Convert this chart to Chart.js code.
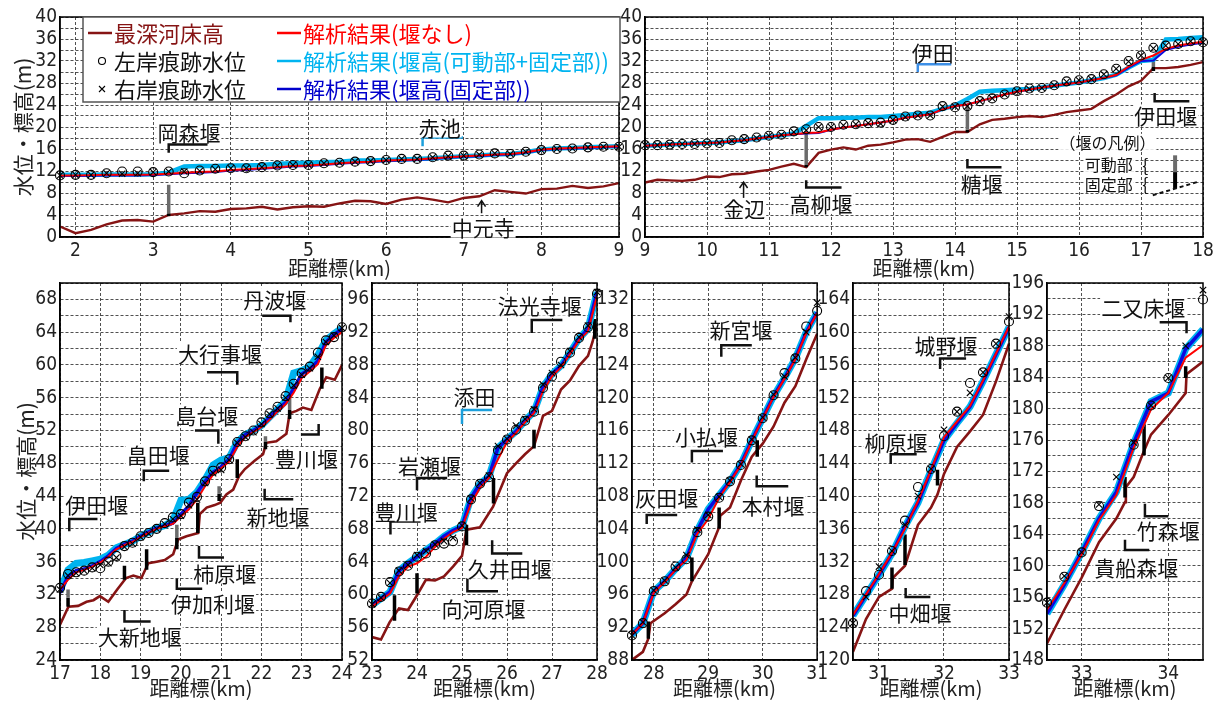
<!DOCTYPE html>
<html lang="ja">
<head>
<meta charset="utf-8">
<title>水位縦断図</title>
<script src="https://cdn.jsdelivr.net/npm/chart.js@4.4.1/dist/chart.umd.min.js"></script>
<style>
  html, body { margin: 0; padding: 0; background: #fff; }
  #wrap { position: relative; width: 1225px; height: 702px; overflow: hidden; background: #fff; }
  #wrap canvas { position: absolute; }
</style>
</head>
<body>
<div id="wrap">
  <canvas id="p1"></canvas>
  <canvas id="p2"></canvas>
  <canvas id="p3"></canvas>
  <canvas id="p4"></canvas>
  <canvas id="p5"></canvas>
  <canvas id="p6"></canvas>
  <canvas id="p7"></canvas>
</div>
<script>
// start: Data
// panel 1 (1.8 - 9 km)
const km1 = [1.8, 2.0, 2.2, 2.4, 2.6, 2.8, 3.0, 3.2, 3.4, 3.6, 3.8, 4.0, 4.2, 4.4, 4.6, 4.8, 5.0, 5.2, 5.4, 5.6, 5.8, 6.0, 6.2, 6.4, 6.6, 6.8, 7.0, 7.2, 7.4, 7.6, 7.8, 8.0, 8.2, 8.4, 8.6, 8.8, 9.0];
const bed1 = [1.9, 0.7, 1.3, 2.3, 3.0, 3.1, 2.8, 4.0, 4.3, 4.7, 4.6, 5.1, 5.2, 5.5, 5.0, 5.4, 5.6, 5.5, 6.1, 6.6, 6.5, 6.0, 6.8, 7.2, 6.8, 6.3, 7.1, 7.4, 8.5, 8.2, 7.9, 8.7, 8.8, 9.3, 8.9, 9.2, 9.8];
const red1 = [11.2, 11.2, 11.25, 11.3, 11.3, 11.3, 11.35, 11.5, 11.7, 11.8, 11.9, 12.2, 12.3, 12.5, 12.7, 12.9, 13.0, 13.2, 13.4, 13.6, 13.7, 13.9, 14.0, 14.1, 14.3, 14.5, 14.7, 14.8, 15.0, 15.1, 15.4, 15.9, 16.1, 16.2, 16.3, 16.4, 16.5];
const blue1 = [11.1, 11.1, 11.15, 11.2, 11.2, 11.2, 11.25, 11.4, 11.6, 11.7, 11.8, 12.1, 12.2, 12.4, 12.6, 12.8, 12.9, 13.1, 13.3, 13.5, 13.6, 13.8, 13.9, 14.0, 14.2, 14.4, 14.6, 14.7, 14.9, 15.0, 15.3, 15.8, 16.0, 16.1, 16.2, 16.3, 16.4];
const cyan1 = [11.3, 11.3, 11.3, 11.35, 11.35, 11.35, 11.4, 11.7, 12.8, 12.9, 12.9, 13.0, 13.0, 13.1, 13.3, 13.4, 13.5, 13.6, 13.7, 13.9, 13.9, 14.0, 14.1, 14.2, 14.3, 14.5, 14.7, 14.8, 15.0, 15.1, 15.4, 15.9, 16.1, 16.2, 16.3, 16.4, 16.5];
const left1 = [11.2, 11.3, 11.3, 11.6, 11.9, 11.9, 11.8, 11.9, 11.6, 12.1, 12.4, 12.5, 12.5, 12.7, 13.0, 13.1, 13.1, 13.4, 13.5, 13.7, 13.8, 14.0, 14.2, 14.2, 14.5, 14.8, 14.8, 15.0, 15.2, 15.1, 15.5, 15.8, 16.0, 16.1, 16.3, 16.4, 16.4];
const right1 = [11.2, 11.3, 11.3, 11.6, 11.5, 11.6, 11.8, 11.9, 11.9, 12.0, 12.3, 12.5, 12.5, 12.7, 13.0, 13.1, 13.1, 13.4, 13.5, 13.7, 13.8, 14.0, 14.2, 14.2, 14.5, 14.7, 14.8, 15.0, 15.2, 15.1, 15.5, 15.8, 16.0, 16.1, 16.3, 16.4, 16.4];
const weirKm1 = [3.2];
const weirBed1 = [3.8];
const weirFix1 = [4.3];
const weirTop1 = [9.5];

// panel 2 (9 - 18 km)
const km2 = [9.0, 9.2, 9.4, 9.6, 9.8, 10.0, 10.2, 10.4, 10.6, 10.8, 11.0, 11.2, 11.4, 11.6, 11.8, 12.0, 12.2, 12.4, 12.6, 12.8, 13.0, 13.2, 13.4, 13.6, 13.8, 14.0, 14.2, 14.4, 14.6, 14.8, 15.0, 15.2, 15.4, 15.6, 15.8, 16.0, 16.2, 16.4, 16.6, 16.8, 17.0, 17.2, 17.4, 17.6, 17.8, 18.0];
const bed2 = [9.9, 10.4, 10.3, 10.2, 10.4, 11.0, 10.9, 11.4, 11.5, 11.9, 12.2, 12.8, 13.3, 12.7, 15.3, 15.9, 16.3, 15.9, 16.6, 16.8, 17.2, 17.7, 17.8, 17.3, 18.2, 19.1, 19.1, 20.5, 21.3, 21.5, 21.8, 22.0, 21.8, 22.2, 22.7, 23.0, 23.3, 24.7, 25.9, 27.4, 28.4, 30.7, 30.7, 30.9, 31.3, 31.8];
const red2 = [16.6, 16.7, 16.8, 16.9, 17.0, 17.1, 17.2, 17.4, 17.6, 17.9, 18.2, 18.5, 18.7, 18.9, 19.0, 19.5, 19.9, 20.2, 20.5, 20.8, 21.2, 21.7, 22.0, 22.3, 23.2, 23.8, 24.1, 24.7, 25.3, 25.9, 26.4, 26.8, 27.2, 27.5, 27.8, 28.1, 28.5, 28.9, 29.5, 31.0, 32.2, 33.0, 34.2, 34.8, 35.2, 35.5];
const blue2 = [16.6, 16.7, 16.8, 16.9, 17.0, 17.1, 17.2, 17.4, 17.6, 17.9, 18.2, 18.5, 18.7, 18.8, 18.9, 19.5, 19.9, 20.2, 20.5, 20.8, 21.2, 21.7, 22.0, 22.3, 23.2, 23.8, 24.1, 24.7, 25.3, 25.9, 26.4, 26.8, 27.2, 27.5, 27.8, 28.1, 28.5, 28.9, 29.4, 30.8, 32.0, 32.1, 34.0, 34.6, 35.0, 35.3];
const cyan2 = [16.6, 16.7, 16.8, 16.9, 17.0, 17.1, 17.2, 17.4, 17.6, 17.9, 18.2, 18.5, 18.8, 20.2, 21.6, 21.6, 21.7, 21.7, 21.8, 21.8, 22.0, 22.2, 22.4, 22.6, 23.3, 23.9, 25.1, 26.4, 26.6, 26.7, 26.8, 26.9, 27.2, 27.5, 27.8, 28.1, 28.5, 28.9, 29.5, 30.8, 32.0, 32.2, 35.9, 36.0, 36.2, 36.3];
const left2 = [16.7, 16.7, 16.8, 16.9, 16.9, 17.0, 17.1, 17.6, 17.8, 18.1, 18.4, 18.6, 19.2, 19.6, 20.0, 20.0, 20.4, 20.5, 20.7, 20.8, 21.3, 21.9, 22.1, 22.1, 23.8, 23.6, 23.8, 24.7, 25.2, 25.9, 26.5, 27.0, 27.1, 27.6, 28.3, 28.5, 28.7, 29.6, 30.6, 32.0, 33.0, 34.4, 34.8, 35.1, 35.6, 35.4];
const right2 = [16.7, 16.7, 16.8, 16.9, 16.9, 17.0, 17.1, 17.5, 17.8, 18.0, 18.4, 18.6, 19.1, 19.4, 20.0, 20.0, 20.3, 20.5, 20.7, 20.6, 21.3, 21.8, 22.1, 22.1, 23.7, 23.7, 23.8, 24.7, 25.2, 25.9, 26.5, 26.9, 27.1, 27.6, 28.2, 28.5, 28.7, 29.6, 30.6, 31.9, 33.0, 34.3, 34.8, 35.1, 35.6, 35.4];
const weirKm2 = [11.6, 14.2, 17.2];
const weirBed2 = [12.7, 19.0, 30.2];
const weirFix2 = [13.1, 19.5, 30.9];
const weirTop2 = [19.3, 23.8, 32.3];

// panel 3 (17 - 24 km)
const km3 = [17.0, 17.2, 17.4, 17.6, 17.8, 18.0, 18.2, 18.4, 18.6, 18.8, 19.0, 19.2, 19.4, 19.6, 19.8, 20.0, 20.2, 20.4, 20.6, 20.8, 21.0, 21.2, 21.4, 21.6, 21.8, 22.0, 22.2, 22.4, 22.6, 22.8, 23.0, 23.2, 23.4, 23.6, 23.8, 24.0];
const blue3 = [32.2, 34.2, 34.9, 35.1, 35.5, 36.0, 36.7, 37.6, 38.1, 38.5, 39.1, 39.6, 40.1, 40.4, 40.7, 41.8, 42.8, 44.4, 45.8, 46.9, 47.6, 48.5, 50.5, 51.5, 52.0, 52.6, 53.6, 54.6, 55.4, 57.1, 58.9, 59.5, 60.5, 62.8, 63.7, 64.4];
const red3 = [32.6, 33.8, 34.7, 35.0, 35.4, 35.9, 36.6, 37.5, 38.0, 38.4, 39.0, 39.5, 40.0, 40.3, 40.6, 41.5, 42.4, 43.6, 45.2, 46.6, 47.4, 48.2, 50.0, 51.2, 51.8, 52.4, 53.3, 54.3, 55.2, 56.6, 58.4, 59.2, 60.1, 62.4, 63.3, 64.0];
const cyan3 = [32.4, 35.0, 35.8, 35.9, 36.1, 36.3, 36.8, 37.7, 38.1, 38.5, 39.1, 39.6, 40.1, 40.4, 41.0, 43.5, 43.6, 44.5, 46.0, 47.8, 48.4, 48.7, 50.6, 51.5, 52.0, 52.6, 53.6, 54.6, 55.6, 59.0, 59.3, 59.8, 61.2, 63.0, 63.8, 64.5];
const left3 = [32.8, 34.5, 34.7, 34.9, 35.3, 35.2, 36.0, 36.7, 37.9, 38.3, 39.1, 39.5, 40.0, 40.7, 41.4, 41.8, 43.2, 43.9, 45.8, 47.1, 47.5, 48.5, 50.6, 51.3, 52.0, 53.0, 54.1, 54.9, 56.2, 57.7, 59.0, 59.8, 61.5, 63.0, 63.4, 64.6];
const right3 = [32.6, 34.3, 34.6, 34.9, 35.2, 35.6, 35.8, 36.5, 37.8, 38.2, 39.0, 39.4, 40.0, 40.6, 41.2, 41.6, 42.9, 43.6, 45.6, 46.8, 47.2, 48.4, 50.5, 51.2, 51.8, 52.8, 54.0, 54.7, 56.0, 57.5, 58.8, 59.6, 61.0, 62.8, 63.6, 64.5];
const bedKm3 = [17.0, 17.21, 17.45, 17.66, 17.83, 17.99, 18.2, 18.42, 18.64, 18.82, 19.02, 19.19, 19.4, 19.6, 19.81, 19.93, 20.14, 20.43, 20.47, 20.64, 20.84, 20.98, 21.13, 21.3, 21.44, 21.59, 21.83, 22.04, 22.12, 22.37, 22.62, 22.7, 22.87, 23.03, 23.24, 23.45, 23.61, 23.82, 24.0];
const bed3 = [28.3, 30.5, 30.6, 31.1, 31.3, 31.8, 31.1, 32.6, 34.0, 34.3, 34.0, 35.8, 36.0, 36.2, 36.9, 38.7, 39.1, 39.5, 41.8, 42.6, 42.9, 43.2, 44.2, 44.8, 46.4, 47.3, 48.3, 49.1, 50.5, 50.7, 51.6, 54.1, 54.4, 54.8, 54.5, 57.1, 58.5, 58.2, 60.0];
const weirKm3 = [17.2, 18.6, 19.15, 19.9, 20.42, 20.95, 21.4, 22.1, 22.7, 23.5];
const weirBed3 = [30.5, 33.8, 35.0, 37.5, 39.5, 43.4, 46.2, 49.7, 53.4, 57.1];
const weirFix3 = [31.6, 35.5, 37.5, 38.9, 43.2, 44.3, 48.5, 50.6, 54.5, 59.7];
const weirTop3 = [32.6, 35.5, 37.5, 40.5, 43.2, 45.2, 48.5, 51.3, 56.0, 59.7];

// panel 4 (23 - 28 km)
const km4 = [23.0, 23.2, 23.4, 23.6, 23.8, 24.0, 24.2, 24.4, 24.6, 24.8, 25.0, 25.2, 25.4, 25.6, 25.8, 26.0, 26.2, 26.4, 26.6, 26.8, 27.0, 27.2, 27.4, 27.6, 27.8, 28.0];
const blue4 = [58.7, 59.5, 60.3, 62.9, 63.8, 64.6, 65.4, 66.2, 67.1, 67.8, 68.3, 71.8, 73.5, 74.4, 77.9, 78.9, 79.9, 81.2, 82.3, 85.3, 86.9, 87.9, 89.5, 91.2, 92.4, 96.9];
const red4 = [58.5, 59.3, 60.1, 62.2, 63.4, 63.8, 64.6, 65.8, 66.8, 67.6, 68.1, 71.1, 73.0, 74.2, 76.5, 78.6, 79.7, 81.0, 82.1, 84.8, 86.6, 87.7, 89.3, 91.0, 92.1, 96.4];
const left4 = [58.9, 59.7, 61.5, 62.8, 63.5, 64.6, 65.0, 66.0, 66.2, 66.5, 68.3, 71.6, 73.5, 74.3, 77.6, 78.9, 80.1, 81.2, 82.3, 85.2, 86.6, 88.4, 89.5, 91.3, 92.6, 96.7];
const right4 = [58.8, 59.6, 61.4, 62.9, 63.6, 64.8, 65.3, 66.1, 66.5, 66.9, 68.4, 71.7, 73.6, 74.5, 78.1, 79.0, 80.6, 81.4, 82.6, 85.6, 87.0, 88.0, 89.7, 91.4, 92.8, 96.9];
const bedKm4 = [23.0, 23.2, 23.39, 23.6, 23.8, 24.0, 24.2, 24.4, 24.6, 24.8, 25.0, 25.1, 25.4, 25.69, 26.0, 26.2, 26.4, 26.6, 26.8, 27.0, 27.2, 27.4, 27.6, 27.8, 27.9, 28.0];
const bed4 = [54.8, 54.5, 56.6, 58.3, 58.1, 59.9, 61.8, 61.7, 62.2, 63.4, 64.7, 67.9, 68.2, 70.7, 74.8, 76.0, 77.1, 78.1, 81.8, 82.4, 85.0, 86.1, 87.9, 89.1, 90.8, 93.0];
const weirKm4 = [23.5, 24.0, 25.1, 25.7, 26.6, 27.95];
const weirBed4 = [56.8, 60.1, 66.0, 71.1, 77.8, 91.2];
const weirTop4 = [59.9, 62.6, 68.5, 74.2, 80.1, 93.6];

// panel 5 (27.6 - 31 km)
const km5 = [27.6, 27.8, 28.0, 28.2, 28.4, 28.6, 28.8, 29.0, 29.2, 29.4, 29.6, 29.8, 30.0, 30.2, 30.4, 30.6, 30.8, 31.0];
const blue5 = [91.1, 92.5, 96.4, 97.6, 99.1, 100.4, 103.8, 106.4, 108.1, 109.8, 111.9, 114.8, 117.5, 120.2, 122.4, 124.8, 128.0, 130.4];
const red5 = [91.1, 92.5, 96.2, 97.5, 99.0, 100.2, 103.4, 105.2, 107.8, 109.7, 111.8, 114.7, 117.4, 120.1, 122.3, 124.7, 127.9, 130.3];
const left5 = [91.0, 92.5, 96.4, 97.6, 99.4, 100.3, 103.6, 105.5, 107.8, 109.8, 111.8, 114.8, 117.5, 120.3, 123.0, 124.8, 128.7, 130.6];
const right5 = [91.0, 92.6, 96.5, 97.7, 99.3, 100.8, 103.9, 105.7, 107.9, 109.9, 111.9, 114.9, 117.6, 120.4, 122.6, 124.9, 128.0, 131.6];
const bedKm5 = [27.6, 27.8, 27.9, 27.94, 28.2, 28.4, 28.6, 28.7, 28.8, 29.0, 29.2, 29.22, 29.4, 29.6, 29.8, 30.0, 30.2, 30.4, 30.6, 30.8, 31.0];
const bed5 = [88.0, 89.0, 90.6, 92.5, 93.7, 94.8, 96.0, 97.6, 98.7, 100.9, 104.2, 105.6, 106.6, 109.9, 112.8, 114.4, 116.5, 119.4, 121.4, 124.7, 127.8];
const weirKm5 = [27.9, 28.7, 29.2, 29.9];
const weirBed5 = [90.6, 97.6, 104.0, 112.8];
const weirTop5 = [92.7, 100.5, 106.6, 114.8];

// panel 6 (30.6 - 33 km)
const km6 = [30.6, 30.8, 31.0, 31.2, 31.4, 31.6, 31.8, 32.0, 32.2, 32.4, 32.6, 32.8, 33.0];
const blue6 = [125.4, 127.9, 130.4, 133.0, 136.3, 139.2, 143.1, 146.8, 148.9, 150.9, 154.0, 157.3, 160.6];
const red6 = [125.5, 128.0, 130.5, 133.1, 136.0, 139.4, 143.2, 147.2, 149.1, 151.0, 154.1, 157.4, 160.7];
const left6 = [124.5, 128.4, 130.4, 133.3, 137.0, 141.1, 143.3, 147.3, 150.3, 153.8, 155.1, 158.6, 161.3];
const right6 = [124.5, 127.7, 131.4, 133.3, 136.5, 140.0, 143.3, 148.1, 150.3, 152.6, 155.1, 158.6, 161.9];
const bedKm6 = [30.6, 30.8, 31.0, 31.2, 31.21, 31.4, 31.6, 31.8, 31.9, 32.0, 32.2, 32.4, 32.6, 32.8, 33.0];
const bed6 = [121.0, 125.0, 127.7, 128.7, 130.0, 131.5, 136.5, 138.6, 140.2, 142.7, 146.0, 147.9, 149.9, 154.0, 158.6];
const weirKm6 = [31.2, 31.4, 31.9];
const weirBed6 = [128.7, 131.6, 141.3];
const weirTop6 = [131.3, 135.3, 143.2];

// panel 7 (32.6 - 34.4 km)
const km7 = [32.6, 32.8, 33.0, 33.2, 33.4, 33.6, 33.8, 34.0, 34.2, 34.4];
const blue7 = [153.9, 157.6, 161.7, 166.0, 169.4, 175.6, 180.9, 182.0, 187.6, 190.1];
const red7 = [154.4, 157.8, 161.4, 165.8, 169.0, 175.0, 179.9, 182.0, 186.5, 188.1];
const left7 = [155.3, 158.6, 161.7, 167.6, null, 175.4, 180.4, 183.9, null, 193.9];
const right7 = [155.3, 158.7, 161.7, 167.8, 171.3, 175.7, 180.4, 183.9, 188.0, 195.1];
const bedKm7 = [32.6, 32.8, 33.0, 33.2, 33.4, 33.5, 33.51, 33.6, 33.7, 33.8, 34.0, 34.2, 34.21, 34.4];
const bed7 = [150.1, 154.4, 158.5, 163.0, 166.0, 168.1, 170.0, 171.3, 174.1, 176.7, 179.2, 182.0, 184.4, 186.0];
const weirKm7 = [33.5, 33.72, 34.2];
const weirBed7 = [168.7, 174.1, 183.9];
const weirTop7 = [171.3, 178.0, 185.4];

// weir names and brackets (data coordinates)
const notes1 = [
  { type: "label", text: "岡森堰", x: 3.46, y: 19.1 },
  { type: "bracket", x: 3.2, v0: 15.3, h: 16.8, x2: 3.7 },
  { type: "label", text: "赤池", x: 6.69, y: 20.0 },
  { type: "bracket", x: 6.47, v0: 16.5, h: 18.1, x2: 6.99, color: "#1ca0dc" },
  { type: "label", text: "中元寺", x: 7.25, y: 1.8 },
  { type: "arrow", x: 7.23, y0: 4.3, y1: 6.6 },
];
const notes2 = [
  { type: "label", text: "高柳堰", x: 11.84, y: 6.1 },
  { type: "bracket", x: 11.6, v0: 10.3, h: 9.0, x2: 12.17 },
  { type: "label", text: "金辺", x: 10.6, y: 5.2 },
  { type: "arrow", x: 10.59, y0: 6.7, y1: 10.0 },
  { type: "label", text: "伊田", x: 13.64, y: 33.6 },
  { type: "bracket", x: 13.4, v0: 30.0, h: 31.4, x2: 13.94, color: "#3d8fe6" },
  { type: "label", text: "糖堰", x: 14.43, y: 9.8 },
  { type: "bracket", x: 14.2, v0: 14.2, h: 12.7, x2: 14.75 },
  { type: "label", text: "伊田堰", x: 17.4, y: 22.2 },
  { type: "bracket", x: 17.22, v0: 26.2, h: 24.7, x2: 17.78 },
  { type: "label", text: "（堰の凡例）", x: 16.46, y: 17.3, size: 16 },
  { type: "label", text: "可動部", x: 16.48, y: 13.3, size: 16 },
  { type: "label", text: "{", x: 17.07, y: 13.3, size: 18, plain: true },
  { type: "label", text: "固定部", x: 16.48, y: 9.7, size: 16 },
  { type: "label", text: "{", x: 17.07, y: 9.7, size: 18, plain: true },
  { type: "bar", x: 17.55, y0: 11.8, y1: 14.85, color: "#6b6b6b" },
  { type: "bar", x: 17.55, y0: 8.8, y1: 11.8, color: "#000" },
  { type: "dash", x0: 17.19, y0: 7.6, x1: 17.91, y1: 10.0 },
];
const notes3 = [
  { type: "label", text: "伊田堰", x: 17.91, y: 43.0 },
  { type: "bracket", x: 17.23, v0: 39.7, h: 41.2, x2: 17.93 },
  { type: "label", text: "大新地堰", x: 18.98, y: 26.9 },
  { type: "bracket", x: 18.6, v0: 30.1, h: 28.7, x2: 19.25 },
  { type: "label", text: "伊加利堰", x: 20.8, y: 30.9 },
  { type: "bracket", x: 19.9, v0: 33.9, h: 32.7, x2: 20.53 },
  { type: "label", text: "柿原堰", x: 21.09, y: 34.6 },
  { type: "bracket", x: 20.45, v0: 37.9, h: 36.5, x2: 21.07 },
  { type: "label", text: "畠田堰", x: 19.44, y: 49.1 },
  { type: "bracket", x: 19.08, v0: 45.8, h: 47.1, x2: 19.71 },
  { type: "label", text: "島台堰", x: 20.64, y: 53.9 },
  { type: "bracket", x: 20.93, v0: 50.4, h: 52.0, x2: 20.35 },
  { type: "label", text: "大行事堰", x: 20.97, y: 61.4 },
  { type: "bracket", x: 21.4, v0: 57.6, h: 59.1, x2: 20.65 },
  { type: "label", text: "丹波堰", x: 22.33, y: 68.1 },
  { type: "bracket", x: 22.72, v0: 65.2, h: 66.0, x2: 22.02 },
  { type: "label", text: "豊川堰", x: 23.12, y: 48.6 },
  { type: "bracket", x: 23.42, v0: 52.8, h: 51.5, x2: 22.98 },
  { type: "label", text: "新地堰", x: 22.41, y: 41.6 },
  { type: "bracket", x: 22.08, v0: 44.9, h: 43.6, x2: 22.79 },
];
const notes4 = [
  { type: "label", text: "豊川堰", x: 23.76, y: 70.2 },
  { type: "bracket", x: 23.41, v0: 67.3, h: 68.9, x2: 24.08 },
  { type: "label", text: "岩瀬堰", x: 24.28, y: 75.8 },
  { type: "bracket", x: 24.0, v0: 72.7, h: 74.2, x2: 24.67 },
  { type: "label", text: "添田", x: 25.28, y: 84.2 },
  { type: "bracket", x: 25.0, v0: 80.8, h: 82.5, x2: 25.67, color: "#1ca0dc" },
  { type: "label", text: "法光寺堰", x: 26.73, y: 95.3 },
  { type: "bracket", x: 26.55, v0: 91.9, h: 93.5, x2: 27.23 },
  { type: "label", text: "久井田堰", x: 26.06, y: 63.2 },
  { type: "bracket", x: 25.67, v0: 66.6, h: 65.0, x2: 26.34 },
  { type: "label", text: "向河原堰", x: 25.48, y: 58.3 },
  { type: "bracket", x: 25.12, v0: 62.0, h: 60.4, x2: 25.8 },
];
const notes5 = [
  { type: "label", text: "灰田堰", x: 28.24, y: 107.9 },
  { type: "bracket", x: 27.87, v0: 104.6, h: 105.7, x2: 28.43 },
  { type: "label", text: "小払堰", x: 28.97, y: 115.3 },
  { type: "bracket", x: 28.7, v0: 112.1, h: 113.5, x2: 29.27 },
  { type: "label", text: "新宮堰", x: 29.6, y: 128.4 },
  { type: "bracket", x: 29.24, v0: 125.0, h: 126.4, x2: 29.8 },
  { type: "label", text: "本村堰", x: 30.19, y: 106.9 },
  { type: "bracket", x: 29.89, v0: 110.5, h: 109.2, x2: 30.47 },
];
const notes6 = [
  { type: "label", text: "柳原堰", x: 31.26, y: 146.6 },
  { type: "bracket", x: 31.18, v0: 143.9, h: 145.1, x2: 31.58 },
  { type: "label", text: "城野堰", x: 32.03, y: 158.4 },
  { type: "bracket", x: 31.94, v0: 155.5, h: 156.8, x2: 32.34 },
  { type: "label", text: "中畑堰", x: 31.63, y: 125.8 },
  { type: "bracket", x: 31.41, v0: 128.8, h: 127.7, x2: 31.79 },
];
const notes7 = [
  { type: "label", text: "二又床堰", x: 33.71, y: 192.9 },
  { type: "bracket", x: 34.21, v0: 189.6, h: 191.0, x2: 33.9 },
  { type: "label", text: "竹森堰", x: 34.0, y: 164.5 },
  { type: "bracket", x: 33.73, v0: 167.9, h: 166.3, x2: 34.0 },
  { type: "label", text: "貴船森堰", x: 33.63, y: 159.8 },
  { type: "bracket", x: 33.5, v0: 163.3, h: 162.0, x2: 33.78 },
];
// end: Data

const BED = "#861414";
const RED = "#ff0000";
const CYAN = "#00b4f0";
const BLUE = "#0a0adf";
const GRID = "rgba(50,50,50,0.85)";
const JP = "'Noto Sans CJK JP', 'Noto Sans CJK SC', sans-serif";
const NUM = "'Liberation Sans Narrow', 'DejaVu Sans Condensed', 'Liberation Sans', sans-serif";

// legend of the first panel
const legendItems = [
  { text: "最深河床高", color: BED, kind: "line", col: 0, row: 0 },
  { text: "左岸痕跡水位", color: "#111", kind: "circle", col: 0, row: 1 },
  { text: "右岸痕跡水位", color: "#111", kind: "cross", col: 0, row: 2 },
  { text: "解析結果(堰なし)", color: RED, kind: "line", col: 1, row: 0 },
  { text: "解析結果(堰高(可動部+固定部))", color: CYAN, kind: "line", col: 1, row: 1 },
  { text: "解析結果(堰高(固定部))", color: "#0000cc", kind: "line", col: 1, row: 2 },
];

function pts(xs, ys) {
  return xs.map(function (x, i) {
    return { x: x, y: ys[i] };
  });
}

function lineSet(xs, ys, color, width, order) {
  return {
    data: pts(xs, ys),
    borderColor: color,
    borderWidth: width,
    pointRadius: 0,
    tension: 0,
    fill: false,
    order: order,
  };
}

function segSet(xs, lo, hi, color, width) {
  const data = [];
  xs.forEach(function (x, i) {
    data.push({ x: x, y: lo[i] }, { x: x, y: hi[i] }, { x: x, y: null });
  });
  return {
    data: data,
    borderColor: color,
    borderWidth: width,
    borderCapStyle: "butt",
    pointRadius: 0,
    spanGaps: false,
    order: 5,
  };
}

function markSet(xs, ys, style) {
  return {
    data: pts(xs, ys),
    showLine: false,
    pointStyle: style,
    pointRadius: 4.5,
    pointBorderColor: "#000",
    pointBackgroundColor: "rgba(0,0,0,0)",
    pointBorderWidth: 1.1,
    order: 0,
    clip: false,
  };
}

function drawLabel(ctx, text, px, py, size, color, plain) {
  ctx.font = size + "px " + JP;
  ctx.textAlign = "center";
  ctx.textBaseline = "middle";
  if (!plain) {
    const w = ctx.measureText(text).width;
    ctx.fillStyle = "#fff";
    ctx.fillRect(px - w / 2 - 1, py - size / 2, w + 2, size);
  }
  ctx.fillStyle = color;
  ctx.fillText(text, px, py + 1);
}

function drawNotes(chart, notes) {
  const ctx = chart.ctx;
  const sx = chart.scales.x;
  const sy = chart.scales.y;
  const X = function (v) { return sx.getPixelForValue(v); };
  const Y = function (v) { return sy.getPixelForValue(v); };
  ctx.save();
  notes.forEach(function (n) {
    if (n.type === "bracket") {
      ctx.strokeStyle = n.color || "#111";
      ctx.lineWidth = 2.5;
      ctx.beginPath();
      ctx.moveTo(X(n.x), Y(n.v0));
      ctx.lineTo(X(n.x), Y(n.h));
      ctx.lineTo(X(n.x2), Y(n.h));
      ctx.stroke();
    } else if (n.type === "arrow") {
      const px = X(n.x), p0 = Y(n.y0), p1 = Y(n.y1);
      ctx.strokeStyle = "#111";
      ctx.lineWidth = 1.5;
      ctx.beginPath();
      ctx.moveTo(px, p0);
      ctx.lineTo(px, p1);
      ctx.moveTo(px - 4, p1 + 6);
      ctx.lineTo(px, p1);
      ctx.lineTo(px + 4, p1 + 6);
      ctx.stroke();
    } else if (n.type === "bar") {
      ctx.strokeStyle = n.color;
      ctx.lineWidth = 4;
      ctx.lineCap = "butt";
      ctx.beginPath();
      ctx.moveTo(X(n.x), Y(n.y0));
      ctx.lineTo(X(n.x), Y(n.y1));
      ctx.stroke();
    } else if (n.type === "dash") {
      ctx.strokeStyle = "#111";
      ctx.lineWidth = 2;
      ctx.setLineDash([4, 3]);
      ctx.beginPath();
      ctx.moveTo(X(n.x0), Y(n.y0));
      ctx.lineTo(X(n.x1), Y(n.y1));
      ctx.stroke();
      ctx.setLineDash([]);
    }
  });
  notes.forEach(function (n) {
    if (n.type === "label") {
      drawLabel(ctx, n.text, X(n.x), Y(n.y), n.size || 21, "#111", n.plain);
    }
  });
  ctx.restore();
}

function drawLegend(ctx) {
  ctx.save();
  ctx.fillStyle = "#fff";
  ctx.fillRect(83, 17, 537, 85);
  ctx.strokeStyle = "#555";
  ctx.lineWidth = 1.5;
  ctx.strokeRect(83, 17, 537, 85);
  legendItems.forEach(function (it) {
    const y = 33 + it.row * 28;
    const x0 = it.col === 0 ? 88 : 277;
    ctx.lineWidth = it.kind === "line" ? 2.5 : 1.1;
    ctx.strokeStyle = it.kind === "line" ? it.color : "#000";
    ctx.beginPath();
    if (it.kind === "line") {
      ctx.moveTo(x0, y);
      ctx.lineTo(x0 + 24, y);
    } else if (it.kind === "circle") {
      ctx.arc(x0 + 14, y, 3.5, 0, Math.PI * 2);
    } else {
      ctx.moveTo(x0 + 11, y - 3);
      ctx.lineTo(x0 + 17, y + 3);
      ctx.moveTo(x0 + 17, y - 3);
      ctx.lineTo(x0 + 11, y + 3);
    }
    ctx.stroke();
    ctx.font = "22px " + JP;
    ctx.textAlign = "left";
    ctx.textBaseline = "middle";
    ctx.fillStyle = it.color;
    ctx.fillText(it.text, x0 + 26, y + 1);
  });
  ctx.restore();
}

function makePanel(p) {
  const canvas = document.getElementById(p.id);
  canvas.width = p.width;
  canvas.height = p.height;
  canvas.style.left = p.posX + "px";
  canvas.style.top = p.posY + "px";

  const w = p.big
    ? { cyan: 7, blue: 3.5, red: 2, bed: 2.6 }
    : { cyan: 4.5, blue: 2, red: 2, bed: 2.4 };
  const datasets = [
    lineSet(p.bedKm, p.bed, BED, w.bed, 6),
    segSet(p.weirKm, p.weirFix, p.weirTop, "#6b6b6b", 3.5),
    segSet(p.weirKm, p.weirBed, p.weirFix, "#000", 3.5),
    lineSet(p.km, p.cyan, CYAN, w.cyan, 4),
    lineSet(p.km, p.blue, BLUE, w.blue, 3),
    lineSet(p.km, p.red, RED, w.red, 2),
    markSet(p.km, p.leftBank, "circle"),
    markSet(p.km, p.rightBank, "crossRot"),
  ];

  new Chart(canvas, {
    type: "line",
    data: { datasets: datasets },
    options: {
      responsive: false,
      animation: false,
      devicePixelRatio: 1,
      events: [],
      layout: { padding: { left: 0, top: p.padTop, right: p.padRight, bottom: 0 } },
      plugins: { legend: { display: false }, tooltip: { enabled: false } },
      scales: {
        x: {
          type: "linear",
          min: p.xMin,
          max: p.xMax,
          afterFit: function (s) { s.height = p.xHeight; },
          ticks: {
            stepSize: 1,
            includeBounds: false,
            autoSkip: false,
            maxRotation: 0,
            padding: 3,
            color: "#222",
            font: { family: NUM, size: 19 },
          },
          grid: { color: GRID, lineWidth: 1, drawTicks: false },
          border: { display: true, color: "#000", width: 1.5, dash: [3, 2] },
          title: {
            display: true,
            text: "距離標(km)",
            color: "#222",
            font: { family: JP, size: 20 },
            padding: { top: 0, bottom: 2 },
          },
        },
        y: {
          min: p.yMin,
          max: p.yMax,
          afterFit: function (s) { s.width = p.yWidth; },
          ticks: {
            stepSize: 2,
            autoSkip: false,
            padding: 3,
            color: "#222",
            font: { family: NUM, size: 19 },
            callback: function (v) {
              return v % 4 === 0 ? v : "";
            },
          },
          grid: { color: GRID, lineWidth: 1, drawTicks: false },
          border: { display: true, color: "#000", width: 1.5, dash: [3, 2] },
          title: {
            display: !!p.yTitle,
            text: "水位・標高(m)",
            color: "#222",
            font: { family: JP, size: 21 },
            padding: { top: p.yTitlePad || 0, bottom: 0 },
          },
        },
      },
    },
    plugins: [
      {
        id: "frame",
        afterDraw: function (chart) {
          const a = chart.chartArea;
          const ctx = chart.ctx;
          ctx.save();
          ctx.strokeStyle = "#000";
          ctx.lineWidth = 1.5;
          ctx.strokeRect(a.left, a.top, a.right - a.left, a.bottom - a.top);
          ctx.restore();
          drawNotes(chart, p.notes);
          if (p.legend) drawLegend(ctx);
        },
      },
    ],
  });
}

makePanel({
  id: "p1", posX: 0, posY: 0, width: 640, height: 282, padTop: 17, padRight: 21, yWidth: 60, xHeight: 45,
  xMin: 1.8, xMax: 9, yMin: 0, yMax: 40, yTitle: true, yTitlePad: 10,
  km: km1, bedKm: km1, bed: bed1, red: red1, cyan: cyan1, blue: blue1, leftBank: left1, rightBank: right1,
  weirKm: weirKm1, weirBed: weirBed1, weirFix: weirFix1, weirTop: weirTop1,
  notes: notes1, legend: true,
});
makePanel({
  id: "p2", posX: 618, posY: 0, width: 607, height: 282, padTop: 17, padRight: 22, yWidth: 27, xHeight: 45,
  xMin: 9, xMax: 18, yMin: 0, yMax: 40,
  km: km2, bedKm: km2, bed: bed2, red: red2, cyan: cyan2, blue: blue2, leftBank: left2, rightBank: right2,
  weirKm: weirKm2, weirBed: weirBed2, weirFix: weirFix2, weirTop: weirTop2,
  notes: notes2,
});
makePanel({
  id: "p3", posX: 0, posY: 260, width: 362, height: 442, padTop: 23, padRight: 20, yWidth: 60, xHeight: 42,
  xMin: 17, xMax: 24, yMin: 24, yMax: 70, yTitle: true, yTitlePad: 13, big: true,
  km: km3, bedKm: bedKm3, bed: bed3, red: red3, cyan: cyan3, blue: blue3, leftBank: left3, rightBank: right3,
  weirKm: weirKm3, weirBed: weirBed3, weirFix: weirFix3, weirTop: weirTop3,
  notes: notes3,
});
makePanel({
  id: "p4", posX: 342, posY: 260, width: 270, height: 442, padTop: 23, padRight: 15, yWidth: 30, xHeight: 42,
  xMin: 23, xMax: 28, yMin: 52, yMax: 98, big: true,
  km: km4, bedKm: bedKm4, bed: bed4, red: red4, cyan: blue4, blue: blue4, leftBank: left4, rightBank: right4,
  weirKm: weirKm4, weirBed: weirBed4, weirFix: weirTop4, weirTop: weirTop4,
  notes: notes4,
});
makePanel({
  id: "p5", posX: 598, posY: 260, width: 233, height: 442, padTop: 23, padRight: 12, yWidth: 34, xHeight: 42,
  xMin: 27.6, xMax: 31, yMin: 88, yMax: 134, big: true,
  km: km5, bedKm: bedKm5, bed: bed5, red: red5, cyan: blue5, blue: blue5, leftBank: left5, rightBank: right5,
  weirKm: weirKm5, weirBed: weirBed5, weirFix: weirTop5, weirTop: weirTop5,
  notes: notes5,
});
makePanel({
  id: "p6", posX: 819, posY: 260, width: 204, height: 442, padTop: 23, padRight: 14, yWidth: 34, xHeight: 42,
  xMin: 30.6, xMax: 33, yMin: 120, yMax: 166, big: true,
  km: km6, bedKm: bedKm6, bed: bed6, red: red6, cyan: blue6, blue: blue6, leftBank: left6, rightBank: right6,
  weirKm: weirKm6, weirBed: weirBed6, weirFix: weirTop6, weirTop: weirTop6,
  notes: notes6,
});
makePanel({
  id: "p7", posX: 1011, posY: 260, width: 214, height: 442, padTop: 23, padRight: 22, yWidth: 36, xHeight: 42,
  xMin: 32.6, xMax: 34.4, yMin: 148, yMax: 196, big: true,
  km: km7, bedKm: bedKm7, bed: bed7, red: red7, cyan: blue7, blue: blue7, leftBank: left7, rightBank: right7,
  weirKm: weirKm7, weirBed: weirBed7, weirFix: weirTop7, weirTop: weirTop7,
  notes: notes7,
});
</script>
</body>
</html>
